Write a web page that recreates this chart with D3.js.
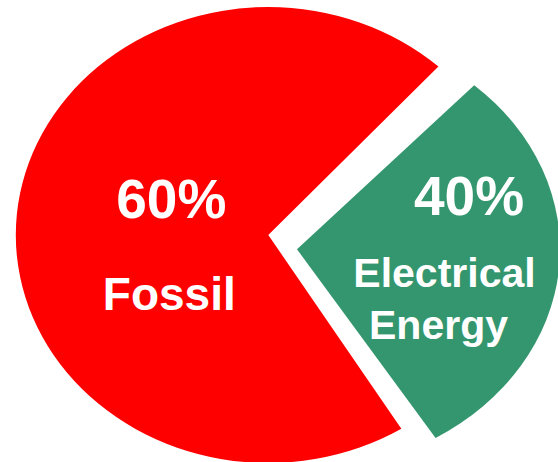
<!DOCTYPE html>
<html>
<head>
<meta charset="utf-8">
<script src="https://cdn.jsdelivr.net/npm/d3@7"></script>
<style>
  html, body { margin: 0; padding: 0; background: #ffffff; }
  svg { display: block; }
  text { font-family: "Liberation Sans", Arial, sans-serif; font-weight: bold; fill: #ffffff; }
</style>
</head>
<body>
<svg id="chart" width="558" height="462"></svg>
<script>
// ---- data ----
const categories = ["Fossil", "Electrical Energy"];
const shares = [60, 40];               // printed percentages
const sliceSweep = [70.6, 29.4];       // slice sizes as drawn in the picture
const colors = ["#FF0000", "#34966E"];

// ---- layout ----
const W = 558, H = 462;
const slices = [
  { cx: 268.3, cy: 235, rx: 252.5, ry: 228,
    labels: [ { t: "pct", dx: -97, y: 218, size: 55 },
              { t: "Fossil", dx: -99, y: 310, size: 46 } ] },
  { cx: 297, cy: 249.3, rx: 263, ry: 222,
    labels: [ { t: "pct", dx: 172, y: 215, size: 55 },
              { t: "Electrical", dx: 147.5, y: 287, size: 41 },
              { t: "Energy", dx: 141.5, y: 338.5, size: 41 } ] }
];

const svg = d3.select("#chart");
const start = 148.2 * Math.PI / 180;
const pie = d3.pie().sort(null).value(d => d)
  .startAngle(start).endAngle(start + 2 * Math.PI);
const arcs = pie(sliceSweep);

arcs.forEach((a, i) => {
  const s = slices[i];
  const arc = d3.arc().innerRadius(0).outerRadius(s.rx);
  svg.append("path")
    .attr("d", arc(a))
    .attr("fill", colors[i])
    .attr("transform", `translate(${s.cx},${s.cy}) scale(1,${s.ry / s.rx})`);
});

arcs.forEach((a, i) => {
  const s = slices[i];
  s.labels.forEach(l => {
    svg.append("text")
      .attr("x", s.cx + l.dx)
      .attr("y", l.y)
      .attr("text-anchor", "middle")
      .style("font-size", l.size + "px")
      .text(l.t === "pct" ? d3.format("d")(shares[i]) + "%" : l.t);
  });
});
</script>
</body>
</html>
